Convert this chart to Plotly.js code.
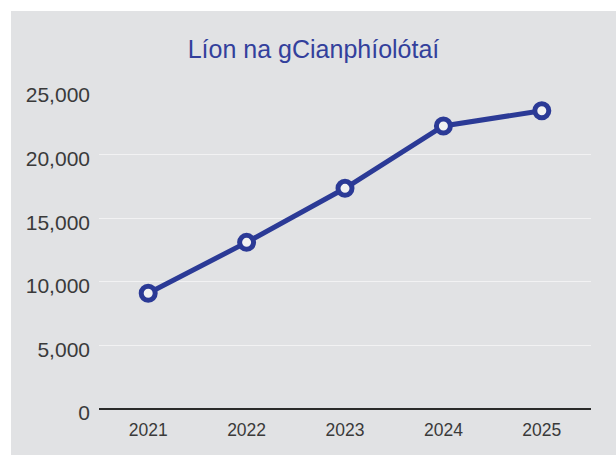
<!DOCTYPE html>
<html>
<head>
<meta charset="utf-8">
<script src="https://cdn.plot.ly/plotly-3.0.1.min.js"></script>
<style>
html,body{margin:0;padding:0;background:#ffffff;}
#chart{position:absolute;left:11px;top:11px;width:605px;height:444px;}
</style>
</head>
<body>
<div id="chart"></div>
<script>
const years = ["2021", "2022", "2023", "2024", "2025"];
const values = [9100, 13100, 17350, 22250, 23450];
const yTicks = [0, 5000, 10000, 15000, 20000, 25000];
const yTickLabels = ["0", "5,000", "10,000", "15,000", "20,000", "25,000"];
const titleText = "Líon na gCianphíolótaí";

const trace = {
  x: years,
  y: values,
  type: "scatter",
  mode: "lines+markers",
  line: {color: "#2b3a96", width: 5},
  marker: {size: 14, color: "#f2f2f2", line: {color: "#2b3a96", width: 5}},
  cliponaxis: false,
  hoverinfo: "skip"
};

const layout = {
  width: 605,
  height: 444,
  paper_bgcolor: "#e1e2e4",
  plot_bgcolor: "#e1e2e4",
  margin: {l: 88, r: 25, t: 80, b: 46},
  showlegend: false,
  title: {
    text: titleText,
    x: 0.5, xref: "container", xanchor: "center",
    y: 1 - 38/444, yref: "container", yanchor: "middle",
    font: {family: "Liberation Sans, Arial, sans-serif", size: 25, color: "#33409c"}
  },
  xaxis: {
    type: "category",
    range: [-0.5, 4.5],
    showgrid: false,
    showline: false,
    zeroline: false,
    ticks: "",
    ticklabelstandoff: 8,
    tickfont: {family: "Liberation Sans, Arial, sans-serif", size: 17.5, color: "#3a3a3a"},
    fixedrange: true
  },
  yaxis: {
    range: [0, 25000],
    tickvals: yTicks,
    ticktext: yTickLabels,
    showgrid: true,
    gridcolor: "#f2f2f3",
    gridwidth: 1,
    zeroline: true,
    zerolinecolor: "#2a2a2a",
    zerolinewidth: 2,
    showline: false,
    ticks: "",
    ticklabelstandoff: 8,
    ticklabelshift: 4,
    tickfont: {family: "Liberation Sans, Arial, sans-serif", size: 21, color: "#3a3a3a"},
    fixedrange: true
  }
};

Plotly.newPlot("chart", [trace], layout, {displayModeBar: false, staticPlot: true});
</script>
</body>
</html>
